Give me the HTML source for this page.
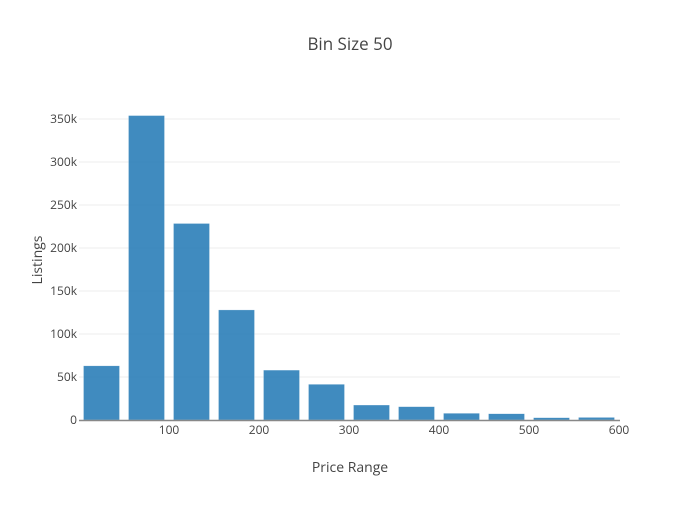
<!DOCTYPE html>
<html><head><meta charset="utf-8"><style>
body{margin:0;background:#fff;}
svg{font-family:"Open Sans","Liberation Sans",sans-serif;}
</style></head><body>
<svg id="chart" width="700" height="500">
<rect width="700" height="500" fill="#fff"/>
<text x="350" y="50" text-anchor="middle" font-size="17" fill="#444">Bin Size 50</text>
<g id="grid"></g><g id="bars"></g><g id="axes"></g>
<text x="350" y="472" text-anchor="middle" font-size="14" fill="#444">Price Range</text>
<text transform="translate(42,260) rotate(-90)" text-anchor="middle" font-size="14" fill="#444">Listings</text>
</svg>
<script>
const binStarts=[0,50,100,150,200,250,300,350,400,450,500,550];
const counts=[63000,354000,228500,128000,58000,41500,17400,15500,7800,7300,2700,3000];
const binSize=50;
const xTicks=[100,200,300,400,500,600];
const yTicks=[0,50000,100000,150000,200000,250000,300000,350000];
const yTickLabels=["0","50k","100k","150k","200k","250k","300k","350k"];
const NS="http://www.w3.org/2000/svg";
const X0=79,X1=619,Y0=420,Y1=119;
const xs=v=>X0+(v-0)/(600-0)*(X1-X0);
const ys=v=>Y0-(v/350000)*(Y0-Y1);
function mk(t,a,p){const e=document.createElementNS(NS,t);for(const k in a)e.setAttribute(k,a[k]);p.appendChild(e);return e;}
const grid=document.getElementById('grid'),bars=document.getElementById('bars'),axes=document.getElementById('axes');
yTicks.forEach((v,i)=>{
 if(v>0){const g=mk('line',{x1:X0,x2:X1+1,y1:ys(v),y2:ys(v),stroke:'#eee','stroke-width':1},grid);
 
 }
 const t=mk('text',{x:X0-2,y:ys(v)+4,'text-anchor':'end','font-size':12,fill:'#444'},axes);
 t.textContent=yTickLabels[i];
 
 
});
binStarts.forEach((s,i)=>{
 const xa=xs(s),xb=xs(s+binSize),w=xb-xa,g=w*0.1;
 const r=mk('rect',{x:xa+g,y:ys(counts[i]),width:w-2*g,height:Y0-ys(counts[i]),fill:'rgba(31,119,180,0.85)',stroke:'rgba(255,255,255,0.5)','stroke-width':0.5},bars);
 
 
});
const ax=mk('line',{x1:X0,x2:X1+1,y1:Y0+0.5,y2:Y0+0.5,stroke:'#888','stroke-width':1.5},axes);


xTicks.forEach(v=>{
 const t=mk('text',{x:xs(v),y:Y0+14,'text-anchor':'middle','font-size':12,fill:'#444'},axes);
 t.textContent=v;
 
 
});
</script>
</body></html>
